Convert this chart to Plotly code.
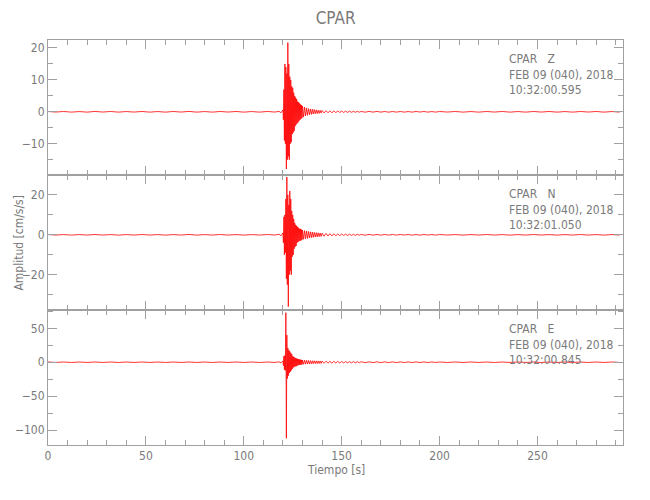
import plotly.graph_objects as go
from plotly.subplots import make_subplots

# ---------------- data (peak times [s] and peak amplitudes [cm/s/s]) ----------------
t_peaks = [
    0, 4, 8, 12, 16, 20, 24, 28, 32, 36, 40, 44, 48, 52, 56, 60, 64, 68, 72, 76,
    80, 84, 88, 92, 96, 100, 104, 108, 112, 116,
    118, 119,
    120.0, 120.25, 120.5, 120.75, 121.0, 121.25, 121.5, 121.75, 122.0, 122.25,
    122.5, 122.75, 123.0, 123.25, 123.5, 123.75, 124.0, 124.25, 124.5, 124.75,
    125.0, 125.25, 125.5, 125.75, 126.0, 126.25, 126.5, 126.75, 127.0, 127.25,
    127.5, 127.75, 128.0, 128.25, 128.5, 128.75, 129.0, 129.25, 129.5, 129.75,
    130, 130.5, 131, 131.5, 132, 132.5, 133, 133.5, 134, 134.5,
    135, 135.5, 136, 136.5, 137, 137.5, 138, 138.5, 139, 139.5,
    140, 141, 142, 143, 144, 145, 146, 147, 148, 149,
    150, 151, 152, 153, 154, 155, 156, 157, 158, 159,
    160, 162, 164, 166, 168, 170, 172, 174, 176, 178,
    180, 182, 184, 186, 188, 190, 192, 194, 196, 198,
    200, 204, 208, 212, 216, 220, 224, 228, 232, 236, 240, 244,
    248, 252, 256, 260, 264, 268, 272, 276, 280, 284, 288, 292,
]

amp_z = [
    0.1, -0.08, 0.1, -0.1, 0.08, -0.1, 0.12, -0.08, 0.1, -0.1, 0.08, -0.08, 0.1, -0.1, 0.08,
    -0.1, 0.1, -0.08, 0.12, -0.1, 0.08, -0.1, 0.1, -0.08, 0.1, -0.1, 0.08, -0.1, 0.1, -0.08,
    0.15, -0.3,
    0.6, -2.5, 7, -9, 15, -10, 14, -17.9, 12, -15,
    21.7, -14, 15, -15, 11, -10, 10, -9.5, 8, -7,
    7.5, -6.5, 6, -6, 5, -4.5, 4.5, -4, 4, -3.6,
    3.2, -3.3, 3, -2.8, 2.6, -2.5, 2.3, -2.2, 2.1, -1.9,
    1.8, -1.6, 1.5, -1.3, 1.2, -1.1, 1.0, -0.9, 0.9, -0.8,
    0.8, -0.7, 0.7, -0.6, 0.6, -0.55, 0.5, -0.5, 0.45, -0.4,
    0.4, -0.35, 0.35, -0.3, 0.3, -0.3, 0.25, -0.25, 0.25, -0.2,
    0.2, -0.2, 0.2, -0.18, 0.18, -0.15, 0.15, -0.15, 0.15, -0.12,
    0.12, -0.12, 0.12, -0.1, 0.12, -0.1, 0.1, -0.12, 0.1, -0.1,
    0.1, -0.1, 0.08, -0.1, 0.1, -0.08, 0.1, -0.1, 0.08, -0.1,
    0.1, -0.08, 0.1, -0.1, 0.08, -0.1, 0.1, -0.08, 0.1, -0.1, 0.08, -0.1,
    0.1, -0.08, 0.1, -0.1, 0.08, -0.1, 0.1, -0.08, 0.1, -0.1, 0.08, -0.1,
]

amp_n = [
    0.15, -0.12, 0.12, -0.15, 0.12, -0.12, 0.15, -0.12, 0.12, -0.15, 0.12, -0.12, 0.15, -0.12, 0.12,
    -0.15, 0.12, -0.12, 0.18, -0.15, 0.12, -0.12, 0.15, -0.12, 0.12, -0.15, 0.12, -0.12, 0.15, -0.12,
    0.3, -0.5,
    1, -4, 9, -10, 10, -9, 18, -22, 29, -25,
    20, -36, 15, -20, 22, -18, 18, -20, 12, -11,
    10, -10, 8, -7, 6, -6, 5, -5.5, 4.5, -4,
    4, -3.5, 3.5, -3.2, 3, -3, 3, -2.8, 2.6, -2.5,
    2.4, -2.2, 2.1, -2.0, 1.9, -1.8, 1.7, -1.6, 1.5, -1.4,
    1.4, -1.3, 1.2, -1.1, 1.1, -1.0, 1.0, -0.9, 0.9, -0.8,
    0.8, -0.7, 0.7, -0.6, 0.6, -0.55, 0.5, -0.5, 0.45, -0.4,
    0.4, -0.35, 0.35, -0.3, 0.3, -0.3, 0.25, -0.25, 0.25, -0.2,
    0.2, -0.2, 0.2, -0.18, 0.18, -0.18, 0.15, -0.15, 0.15, -0.15,
    0.15, -0.12, 0.15, -0.15, 0.12, -0.15, 0.15, -0.12, 0.12, -0.15,
    0.15, -0.12, 0.12, -0.15, 0.12, -0.12, 0.15, -0.12, 0.12, -0.15, 0.12, -0.12,
    0.15, -0.12, 0.12, -0.15, 0.12, -0.12, 0.15, -0.12, 0.12, -0.15, 0.12, -0.12,
]

amp_e = [
    0.35, -0.3, 0.3, -0.35, 0.3, -0.3, 0.35, -0.3, 0.3, -0.35, 0.3, -0.3, 0.35, -0.3, 0.3,
    -0.35, 0.3, -0.3, 0.35, -0.3, 0.3, -0.35, 0.3, -0.3, 0.35, -0.3, 0.3, -0.35, 0.3, -0.3,
    0.6, -1.0,
    2, -5, 9, -11, 10, -12, 73, -112, 40, -24,
    21, -20, 18, -16, 16, -14, 14, -12, 12, -10,
    9, -8, 8, -7, 7, -6, 6, -6, 5.5, -5,
    5, -4.5, 4.5, -4, 4, -4, 3.8, -3.5, 3.5, -3.2,
    3.2, -3.0, 3.0, -2.8, 2.8, -2.6, 2.6, -2.5, 2.4, -2.3,
    2.2, -2.2, 2.1, -2.0, 2.0, -1.9, 1.9, -1.8, 1.8, -1.7,
    1.6, -1.5, 1.5, -1.4, 1.4, -1.3, 1.3, -1.2, 1.2, -1.1,
    1.1, -1.0, 1.0, -0.9, 0.9, -0.9, 0.8, -0.8, 0.8, -0.7,
    0.7, -0.7, 0.6, -0.6, 0.6, -0.55, 0.55, -0.5, 0.5, -0.5,
    0.45, -0.45, 0.45, -0.4, 0.45, -0.4, 0.4, -0.4, 0.4, -0.35,
    0.35, -0.35, 0.35, -0.3, 0.35, -0.3, 0.3, -0.35, 0.3, -0.3, 0.35, -0.3,
    0.3, -0.35, 0.3, -0.3, 0.35, -0.3, 0.3, -0.35, 0.3, -0.3, 0.35, -0.3,
]

station = "CPAR"
components = ["Z", "N", "E"]
date_label = "FEB 09 (040), 2018"
start_times = ["10:32:00.595", "10:32:01.050", "10:32:00.845"]
y_tickvals = [[-10, 0, 10, 20], [-20, 0, 20], [-100, -50, 0, 50]]
y_ranges = [[-19.8, 22.5], [-37.7, 30.0], [-122, 77]]
y_minor = [5, 10, 25]
x_range = [0, 293.7]

# ---------------- figure ----------------
FONT = "DejaVu Sans Condensed, Liberation Sans Narrow, Roboto, sans-serif"
AXIS_COLOR = "#a0a0a0"
TEXT_COLOR = "#7a7a7a"

fig = make_subplots(rows=3, cols=1, shared_xaxes=True, vertical_spacing=0)

for i, amps in enumerate([amp_z, amp_n, amp_e]):
    fig.add_trace(
        go.Scatter(x=t_peaks, y=amps, mode="lines",
                   line=dict(color="#ff0000", width=0.8),
                   showlegend=False, hoverinfo="skip", cliponaxis=False),
        row=i + 1, col=1,
    )
    fig.update_yaxes(
        range=y_ranges[i], tickvals=y_tickvals[i], automargin=False,
        ticks="inside", ticklen=9, tickcolor=AXIS_COLOR,
        minor=dict(ticks="inside", ticklen=5, dtick=y_minor[i], tick0=0, tickcolor=AXIS_COLOR),
        showline=True, linecolor=AXIS_COLOR, linewidth=1, mirror="ticks",
        showgrid=False, zeroline=False,
        tickfont=dict(family=FONT, size=12, color=TEXT_COLOR),
        row=i + 1, col=1,
    )
    fig.update_xaxes(
        range=x_range, dtick=50, tick0=0, automargin=False,
        ticks="inside", ticklen=9, tickcolor=AXIS_COLOR,
        minor=dict(ticks="inside", ticklen=5, dtick=10, tick0=0, tickcolor=AXIS_COLOR),
        showline=True, linecolor=AXIS_COLOR, linewidth=1, mirror="ticks",
        showgrid=False, zeroline=False,
        showticklabels=(i == 2),
        tickfont=dict(family=FONT, size=12, color=TEXT_COLOR),
        row=i + 1, col=1,
    )
    yref = "y domain" if i == 0 else f"y{i + 1} domain"
    xref = "x" if i == 0 else f"x{i + 1}"
    fig.add_annotation(
        x=234.2, xref=xref, y=0.925, yref=yref, xanchor="left", yanchor="top",
        text=f"{station}\u00a0\u00a0\u00a0{components[i]}<br>{date_label}<br>{start_times[i]}",
        showarrow=False, align="left",
        font=dict(family=FONT, size=12, color=TEXT_COLOR),
    )

fig.add_annotation(
    x=-0.052, xref="paper", y=0.5, yref="paper", textangle=-90,
    xanchor="center", yanchor="middle",
    text="Amplitud [cm/s/s]", showarrow=False,
    font=dict(family=FONT, size=12, color=TEXT_COLOR),
)
fig.add_annotation(
    x=0.5, xref="paper", y=-0.062, yref="paper", xanchor="center", yanchor="middle",
    text="Tiempo [s]", showarrow=False,
    font=dict(family=FONT, size=12, color=TEXT_COLOR),
)

fig.update_layout(
    width=650, height=500,
    margin=dict(l=40, r=35, t=32, b=63, autoexpand=False),
    paper_bgcolor="white", plot_bgcolor="white",
    title=dict(text=station, x=0.504, xanchor="center", y=0.98, yanchor="middle",
               font=dict(family=FONT, size=17, color=TEXT_COLOR)),
)

fig.write_html("out.html")
